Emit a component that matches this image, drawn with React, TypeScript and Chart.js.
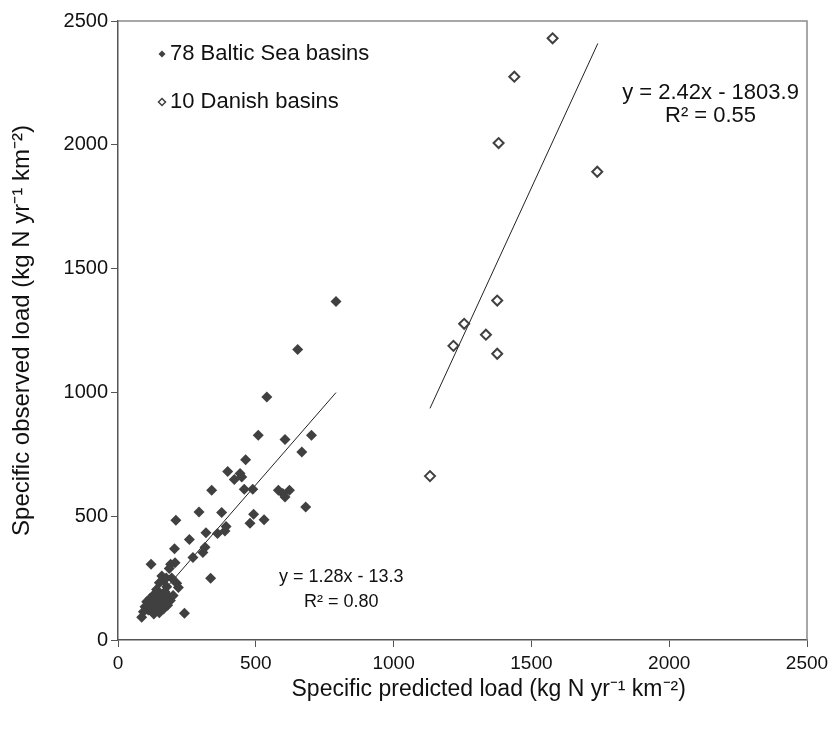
import React, { useEffect, useRef } from "react";
import { Chart, registerables } from "chart.js";

Chart.register(...registerables);

// Baltic Sea basins: specific predicted load (x) vs observed load (y)
const balticX = [
  791, 652, 540, 509, 606, 702, 667, 463, 398, 443, 449, 422, 340, 458, 489, 582, 622, 606, 598, 681,
  294, 376, 492, 530, 479, 392, 388, 319, 361, 210, 259, 316, 308, 205, 272, 120, 191, 207, 186, 336,
  159, 164, 150, 213, 219, 177, 140, 128, 152, 116, 164, 104, 134, 177, 98, 122, 150, 110, 92, 241,
  86, 140, 170, 185, 145, 190, 125, 160, 140, 165, 130, 180, 200, 115, 150, 195, 175, 135,
];
const balticY = [
  1367, 1173, 981, 827, 810, 827, 759, 728, 681, 672, 658, 648, 605, 609, 609, 605, 605, 578, 592, 537,
  517, 515, 508, 486, 472, 458, 440, 433, 430, 484, 406, 375, 353, 369, 333, 306, 306, 312, 289, 249,
  258, 242, 231, 229, 212, 215, 204, 181, 181, 168, 168, 154, 154, 154, 134, 134, 134, 121, 114, 108,
  92, 190, 195, 175, 160, 160, 145, 145, 120, 125, 105, 140, 180, 150, 110, 250, 250, 170,
];

// Danish basins
const danishX = [1577, 1438, 1381, 1739, 1376, 1256, 1335, 1217, 1376, 1132];
const danishY = [2430, 2275, 2007, 1891, 1371, 1277, 1233, 1188, 1156, 662];

// Linear fits: [slope, intercept], x range
const balticFit = [1.28, -13.3];
const balticFitRange = [86, 791];
const danishFit = [2.42, -1803.9];
const danishFitRange = [1132, 1741];

const xTicks = [0, 500, 1000, 1500, 2000, 2500];
const yTicks = [0, 500, 1000, 1500, 2000, 2500];

const legendLabels = ["78 Baltic Sea basins", "10 Danish basins"];
const balticEq = ["y = 1.28x - 13.3", "R² = 0.80"];
const danishEq = ["y = 2.42x - 1803.9", "R² = 0.55"];
const xTitle = "Specific predicted load (kg N yr⁻¹ km⁻²)";
const yTitle = "Specific observed load (kg N yr⁻¹ km⁻²)";

const FONT = "'Liberation Sans', Arial, sans-serif";
const MARK = "#404040";

export default function App() {
  const ref = useRef<HTMLCanvasElement | null>(null);

  useEffect(() => {
    document.body.style.margin = "0";
    const canvas = ref.current;
    if (!canvas) return;

    const overlay = {
      id: "overlay",
      afterDraw(chart: any) {
        const { ctx, chartArea } = chart;
        const xs = chart.scales.x;
        const ys = chart.scales.y;
        ctx.save();
        // frame top/right
        ctx.strokeStyle = "#8a8a8a";
        ctx.lineWidth = 1.5;
        ctx.beginPath();
        ctx.moveTo(chartArea.left, chartArea.top);
        ctx.lineTo(chartArea.right, chartArea.top);
        ctx.lineTo(chartArea.right, chartArea.bottom);
        ctx.stroke();

        ctx.textBaseline = "middle";

        // legend
        const lx = chartArea.left + 44;
        const ly1 = chartArea.top + 33;
        const ly2 = chartArea.top + 81;
        ctx.fillStyle = MARK;
        ctx.beginPath();
        ctx.moveTo(lx, ly1 - 3.5);
        ctx.lineTo(lx + 3.5, ly1);
        ctx.lineTo(lx, ly1 + 3.5);
        ctx.lineTo(lx - 3.5, ly1);
        ctx.closePath();
        ctx.fill();
        ctx.strokeStyle = MARK;
        ctx.lineWidth = 1.5;
        ctx.beginPath();
        ctx.moveTo(lx, ly2 - 3.5);
        ctx.lineTo(lx + 3.5, ly2);
        ctx.lineTo(lx, ly2 + 3.5);
        ctx.lineTo(lx - 3.5, ly2);
        ctx.closePath();
        ctx.stroke();
        ctx.fillStyle = "#111";
        ctx.font = `22px ${FONT}`;
        ctx.textAlign = "left";
        ctx.fillText(legendLabels[0], lx + 8, ly1);
        ctx.fillText(legendLabels[1], lx + 8, ly2);

        // equations
        ctx.textAlign = "center";
        ctx.font = `18px ${FONT}`;
        const bx = xs.getPixelForValue(810);
        ctx.fillText(balticEq[0], bx, ys.getPixelForValue(255));
        ctx.fillText(balticEq[1], bx, ys.getPixelForValue(155));
        ctx.font = `22px ${FONT}`;
        const dx = xs.getPixelForValue(2150);
        ctx.fillText(danishEq[0], dx, ys.getPixelForValue(2208));
        ctx.fillText(danishEq[1], dx, ys.getPixelForValue(2115));

        // x axis title (offset right of axis centre, as in the original)
        ctx.font = `23px ${FONT}`;
        ctx.fillText(xTitle, xs.getPixelForValue(1345), chartArea.bottom + 50);
        ctx.restore();
      },
    };

    const fitLine = (fit: number[], range: number[]) =>
      range.map((x) => ({ x, y: fit[0] * x + fit[1] }));

    const chart = new Chart(canvas, {
      type: "scatter",
      data: {
        datasets: [
          {
            label: legendLabels[0],
            data: balticX.map((x, i) => ({ x, y: balticY[i] })),
            pointStyle: "rectRot",
            pointRadius: 5.5,
            backgroundColor: MARK,
            borderColor: MARK,
            borderWidth: 0,
          },
          {
            label: legendLabels[1],
            data: danishX.map((x, i) => ({ x, y: danishY[i] })),
            pointStyle: "rectRot",
            pointRadius: 5,
            backgroundColor: "#ffffff",
            borderColor: MARK,
            borderWidth: 2,
          },
          {
            label: "fit1",
            type: "line",
            data: fitLine(balticFit, balticFitRange),
            borderColor: "#222",
            borderWidth: 1,
            pointRadius: 0,
            showLine: true,
          } as any,
          {
            label: "fit2",
            type: "line",
            data: fitLine(danishFit, danishFitRange),
            borderColor: "#222",
            borderWidth: 1,
            pointRadius: 0,
            showLine: true,
          } as any,
        ],
      },
      options: {
        animation: false,
        responsive: false,
        layout: { padding: { left: 0, right: 28, top: 21, bottom: 0 } },
        plugins: { legend: { display: false }, tooltip: { enabled: false } },
        scales: {
          x: {
            type: "linear",
            min: 0,
            max: 2500,
            afterBuildTicks: (s: any) => {
              s.ticks = xTicks.map((v) => ({ value: v }));
            },
            afterFit: (s: any) => {
              s.height = 94;
            },
            grid: {
              drawOnChartArea: false,
              drawTicks: true,
              tickLength: 7,
              color: "#555",
            },
            border: { display: true, color: "#555", width: 1.5 },
            ticks: {
              color: "#111",
              font: { family: FONT, size: 19 },
              padding: 5,
              callback: (v: any) => String(v),
            },
            title: { display: false },
          },
          y: {
            type: "linear",
            min: 0,
            max: 2500,
            afterBuildTicks: (s: any) => {
              s.ticks = yTicks.map((v) => ({ value: v }));
            },
            afterFit: (s: any) => {
              s.width = 118;
            },
            grid: {
              drawOnChartArea: false,
              drawTicks: true,
              tickLength: 7,
              color: "#555",
            },
            border: { display: true, color: "#555", width: 1.5 },
            ticks: {
              color: "#111",
              font: { family: FONT, size: 20 },
              padding: 3,
              callback: (v: any) => String(v),
            },
            title: {
              display: true,
              text: yTitle,
              color: "#111",
              font: { family: FONT, size: 24 },
              padding: { top: 8, bottom: 6 },
            },
          },
        },
      },
      plugins: [overlay],
    });

    return () => chart.destroy();
  }, []);

  return <canvas ref={ref} width={835} height={734} style={{ display: "block" }} />;
}
